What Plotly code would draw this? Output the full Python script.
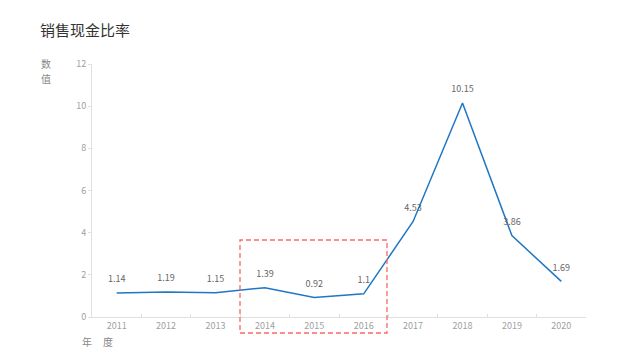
import plotly.graph_objects as go

years = ["2011", "2012", "2013", "2014", "2015", "2016", "2017", "2018", "2019", "2020"]
ratio = [1.14, 1.19, 1.15, 1.39, 0.92, 1.1, 4.53, 10.15, 3.86, 1.69]
labels = ["1.14", "1.19", "1.15", "1.39", "0.92", "1.1", "4.53", "10.15", "3.86", "1.69"]

FONT = "Noto Sans CJK SC, Noto Sans, sans-serif"

# page body has an 8px margin; figure is sized so the plot lands where the reference has it
W, H = 632, 353
L, R, T, B = 84, 54, 56, 44
PW, PH = W - L - R, H - T - B

fig = go.Figure()
fig.add_trace(go.Scatter(
    x=years, y=ratio, mode="lines+markers+text", text=labels,
    textposition="top center", textfont=dict(size=9, color="#666666", family=FONT),
    marker=dict(size=12, color="rgba(0,0,0,0)"),
    line=dict(color="#1f77c4", width=1.5), hoverinfo="skip", cliponaxis=False,
))

fig.add_shape(type="rect", xref="paper", yref="paper",
              x0=(232 - L) / PW, x1=(379 - L) / PW,
              y0=1 - (325 - T) / PH, y1=1 - (232 - T) / PH,
              line=dict(color="#ff6666", width=1.3, dash="5px,3px"), fillcolor="rgba(0,0,0,0)")

fig.update_layout(
    width=W, height=H, autosize=False,
    margin=dict(l=L, r=R, t=T, b=B),
    paper_bgcolor="white", plot_bgcolor="white",
    showlegend=False,
    font=dict(family=FONT),
    title=dict(text="销售现金比率", x=32 / W, xanchor="left", y=1 - 23 / H, yanchor="middle",
               font=dict(size=15, color="#333333", family=FONT)),
    xaxis=dict(type="category", tickson="boundaries", ticks="inside", ticklen=3,
               tickcolor="#e0e0e0", showline=True, linecolor="#e0e0e0", linewidth=1,
               showgrid=False, zeroline=False, tickfont=dict(size=9, color="#a0a0a0"),
               range=[-0.5, 9.5]),
    yaxis=dict(range=[0, 12], dtick=2, ticks="outside", ticklen=3, tickcolor="#e0e0e0",
               showline=True, linecolor="#e0e0e0", linewidth=1, showgrid=False,
               zeroline=False, tickfont=dict(size=9, color="#a0a0a0")),
    annotations=[
        dict(text="数", xref="paper", yref="paper", x=(38 - L) / PW, y=1 - (55 - T) / PH,
             xanchor="center", yanchor="middle", showarrow=False,
             font=dict(size=10, color="#888888", family=FONT)),
        dict(text="值", xref="paper", yref="paper", x=(38 - L) / PW, y=1 - (70 - T) / PH,
             xanchor="center", yanchor="middle", showarrow=False,
             font=dict(size=10, color="#888888", family=FONT)),
        dict(text="年", xref="paper", yref="paper", x=(79 - L) / PW, y=1 - (333 - T) / PH,
             xanchor="center", yanchor="middle", showarrow=False,
             font=dict(size=10, color="#888888", family=FONT)),
        dict(text="度", xref="paper", yref="paper", x=(100 - L) / PW, y=1 - (333 - T) / PH,
             xanchor="center", yanchor="middle", showarrow=False,
             font=dict(size=10, color="#888888", family=FONT)),
    ],
)

fig.write_html("out.html")
